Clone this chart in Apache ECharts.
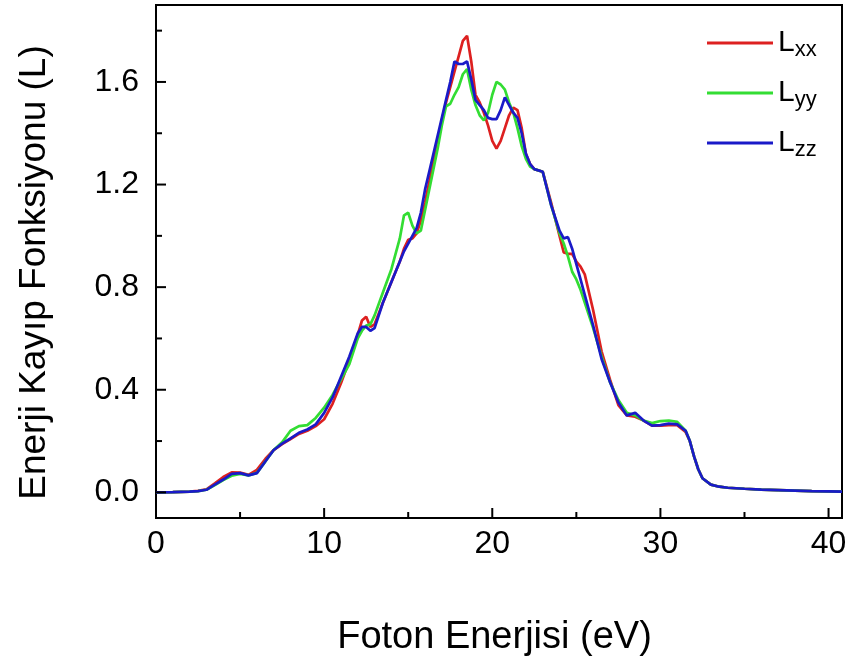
<!DOCTYPE html>
<html>
<head>
<meta charset="utf-8">
<script src="https://cdn.jsdelivr.net/npm/echarts@6/dist/echarts.min.js"></script>
<style>
  html, body { margin: 0; padding: 0; background: #fff; }
  #chart { width: 853px; height: 668px; }
</style>
</head>
<body>
<div id="chart"></div>
<script>
// Photon energy grid (eV)
const energy = [0, 1, 2, 2.5, 3, 3.5, 4, 4.5, 5, 5.5,
  6, 6.5, 7, 7.5, 8, 8.5, 9, 9.5, 10, 10.5,
  11, 11.5, 12, 12.25, 12.5, 12.75, 13, 13.5, 14, 14.5,
  14.75, 15, 15.25, 15.5, 15.75, 16, 16.25, 16.5, 16.75, 17,
  17.25, 17.5, 17.75, 18, 18.25, 18.5, 18.75, 19, 19.25, 19.5,
  19.75, 20, 20.25, 20.5, 20.75, 21, 21.25, 21.5, 21.75, 22,
  22.25, 22.5, 23, 23.5, 24, 24.25, 24.5, 24.75, 25, 25.25,
  25.5, 26, 26.5, 27, 27.5, 28, 28.5, 29, 29.5, 30,
  30.5, 31, 31.5, 31.75, 32, 32.25, 32.5, 33, 33.5, 34,
  35, 36, 37, 38, 39, 40, 40.8];

// Energy loss function components
const lxx = [0.000, 0.001, 0.003, 0.006, 0.012, 0.035, 0.060, 0.078, 0.077, 0.068,
  0.088, 0.130, 0.165, 0.188, 0.208, 0.228, 0.240, 0.258, 0.285, 0.345,
  0.425, 0.515, 0.615, 0.670, 0.685, 0.645, 0.655, 0.740, 0.820, 0.900,
  0.950, 0.985, 0.990, 1.010, 1.060, 1.130, 1.210, 1.290, 1.370, 1.450,
  1.520, 1.580, 1.640, 1.700, 1.760, 1.780, 1.680, 1.550, 1.520, 1.480,
  1.430, 1.370, 1.340, 1.370, 1.420, 1.470, 1.500, 1.490, 1.420, 1.320,
  1.280, 1.260, 1.250, 1.130, 1.000, 0.935, 0.930, 0.930, 0.900, 0.880,
  0.850, 0.710, 0.550, 0.440, 0.340, 0.300, 0.295, 0.280, 0.260, 0.260,
  0.262, 0.262, 0.235, 0.200, 0.140, 0.090, 0.055, 0.030, 0.022, 0.018,
  0.014, 0.011, 0.009, 0.007, 0.005, 0.004, 0.003];

const lyy = [0.000, 0.001, 0.003, 0.005, 0.010, 0.028, 0.048, 0.065, 0.072, 0.066,
  0.076, 0.120, 0.165, 0.195, 0.240, 0.258, 0.262, 0.290, 0.330, 0.380,
  0.440, 0.500, 0.600, 0.630, 0.650, 0.655, 0.690, 0.780, 0.870, 0.990,
  1.080, 1.090, 1.040, 1.010, 1.020, 1.100, 1.180, 1.260, 1.340, 1.430,
  1.505, 1.515, 1.550, 1.580, 1.630, 1.650, 1.570, 1.510, 1.470, 1.450,
  1.480, 1.550, 1.600, 1.590, 1.570, 1.520, 1.480, 1.420, 1.350, 1.300,
  1.270, 1.260, 1.250, 1.120, 1.010, 0.970, 0.920, 0.860, 0.830, 0.790,
  0.740, 0.640, 0.530, 0.430, 0.360, 0.310, 0.300, 0.280, 0.270, 0.278,
  0.280, 0.275, 0.240, 0.200, 0.140, 0.090, 0.055, 0.030, 0.022, 0.018,
  0.014, 0.011, 0.009, 0.007, 0.005, 0.004, 0.003];

const lzz = [0.000, 0.001, 0.003, 0.005, 0.010, 0.030, 0.050, 0.072, 0.075, 0.066,
  0.075, 0.120, 0.165, 0.190, 0.210, 0.232, 0.245, 0.265, 0.310, 0.370,
  0.450, 0.530, 0.620, 0.645, 0.645, 0.630, 0.640, 0.740, 0.820, 0.900,
  0.940, 0.970, 1.000, 1.030, 1.090, 1.180, 1.250, 1.320, 1.390, 1.460,
  1.530, 1.600, 1.680, 1.670, 1.670, 1.680, 1.610, 1.530, 1.510, 1.490,
  1.460, 1.455, 1.455, 1.490, 1.540, 1.510, 1.480, 1.460, 1.400, 1.320,
  1.280, 1.260, 1.250, 1.120, 1.020, 0.990, 0.995, 0.950, 0.890, 0.830,
  0.770, 0.650, 0.520, 0.430, 0.350, 0.300, 0.310, 0.280, 0.260, 0.262,
  0.268, 0.265, 0.240, 0.200, 0.140, 0.090, 0.055, 0.030, 0.022, 0.018,
  0.014, 0.011, 0.009, 0.007, 0.005, 0.004, 0.003];

// Tick positions
const xMajorTicks = [0, 10, 20, 30, 40];
const xMinorTicks = [5, 15, 25, 35];
const yMajorTicks = [0, 0.4, 0.8, 1.2, 1.6];
const yMinorTicks = [0.2, 0.6, 1.0, 1.4, 1.8];

const seriesNames = ['Lxx', 'Lyy', 'Lzz'];
const seriesColors = ['#dd2020', '#33dd33', '#1a1ac8'];
const seriesValues = [lxx, lyy, lzz];

const FONT = 'Liberation Sans, Arial, sans-serif';
const X_MIN = 0, X_MAX = 40.8, Y_MIN = -0.1, Y_MAX = 1.9;

const pairs = vals => energy.map((e, i) => [e, vals[i]]);

const chart = echarts.init(document.getElementById('chart'), null, { renderer: 'canvas' });

// Inward tick marks on the bottom axis, positioned through the axis scale
function xTickSeries(values, len) {
  return {
    type: 'custom', silent: true, clip: false, z: 5,
    data: values.map(v => [v, Y_MIN]),
    renderItem: (params, api) => {
      const p = api.coord([api.value(0), Y_MIN]);
      return { type: 'line', shape: { x1: p[0], y1: p[1], x2: p[0], y2: p[1] - len },
               style: { stroke: '#000', lineWidth: 2 } };
    }
  };
}
// Inward tick marks on the left axis
function yTickSeries(values, len) {
  return {
    type: 'custom', silent: true, clip: false, z: 5,
    data: values.map(v => [X_MIN, v]),
    renderItem: (params, api) => {
      const p = api.coord([X_MIN, api.value(1)]);
      return { type: 'line', shape: { x1: p[0], y1: p[1], x2: p[0] + len, y2: p[1] },
               style: { stroke: '#000', lineWidth: 2 } };
    }
  };
}

const lineSeries = seriesNames.map((name, i) => ({
  name: name,
  type: 'line',
  data: pairs(seriesValues[i]),
  symbol: 'none',
  smooth: false,
  color: seriesColors[i],
  lineStyle: { color: seriesColors[i], width: 2.7 }
}));

chart.setOption({
  animation: false,
  backgroundColor: '#fff',
  tooltip: { show: false },
  grid: {
    left: 156, right: 11, top: 5, bottom: 150,
    show: true, borderColor: '#000', borderWidth: 2, backgroundColor: 'transparent'
  },
  legend: {
    orient: 'vertical',
    left: 702, top: 20,
    itemGap: 14,
    itemWidth: 66, itemHeight: 3,
    icon: 'rect',
    data: seriesNames,
    formatter: name => '{m|L}{s|' + name.slice(1) + '}',
    textStyle: {
      rich: {
        m: { fontFamily: FONT, fontSize: 30, color: '#000', lineHeight: 36 },
        s: { fontFamily: FONT, fontSize: 22, color: '#000', padding: [14, 0, 0, 0], lineHeight: 36 }
      }
    }
  },
  xAxis: {
    type: 'value', min: X_MIN, max: X_MAX,
    name: 'Foton Enerjisi (eV){gap|}', nameLocation: 'middle', nameGap: 101,
    nameTextStyle: {
      fontFamily: FONT, fontSize: 38, color: '#000',
      rich: { gap: { width: 9 } }
    },
    axisLine: { show: true, onZero: false, lineStyle: { color: '#000', width: 2 } },
    splitLine: { show: false },
    axisTick: { show: false },
    axisLabel: { customValues: xMajorTicks, fontFamily: FONT, fontSize: 32, color: '#000', margin: 10 }
  },
  yAxis: {
    type: 'value', min: Y_MIN, max: Y_MAX,
    name: 'Enerji Kayıp Fonksiyonu (L){gap|}', nameLocation: 'middle', nameGap: 103,
    nameTextStyle: {
      fontFamily: FONT, fontSize: 37, color: '#000',
      rich: { gap: { width: 22 } }
    },
    axisLine: { show: true, onZero: false, lineStyle: { color: '#000', width: 2 } },
    splitLine: { show: false },
    axisTick: { show: false },
    axisLabel: {
      customValues: yMajorTicks, fontFamily: FONT, fontSize: 32, color: '#000', margin: 17,
      formatter: v => v.toFixed(1)
    }
  },
  series: lineSeries.concat([
    xTickSeries(xMajorTicks, 10),
    xTickSeries(xMinorTicks, 6),
    yTickSeries(yMajorTicks, 10),
    yTickSeries(yMinorTicks, 6)
  ])
});
</script>
</body>
</html>
